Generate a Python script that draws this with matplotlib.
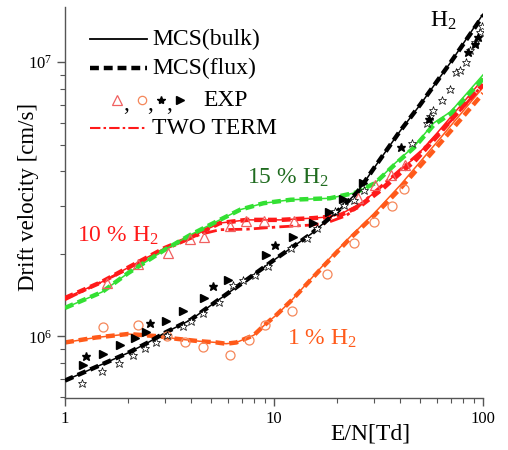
import matplotlib
matplotlib.use("Agg")
import matplotlib.pyplot as plt
from matplotlib.ticker import LogLocator, NullFormatter

plt.rcParams['font.family'] = ['Liberation Serif', 'DejaVu Serif']
plt.rcParams['mathtext.fontset'] = 'custom'
plt.rcParams['mathtext.rm'] = 'Liberation Serif'
plt.rcParams['mathtext.it'] = 'Liberation Serif:italic'
plt.rcParams['mathtext.bf'] = 'Liberation Serif:bold'

# ---------------- data ----------------
# pure H2 (black)
h2_en = [1.0, 1.5, 2.0, 2.5, 3.0, 4.0, 5.0, 7.0, 10, 15, 20, 25, 30, 40, 50, 70, 100]
h2_bulk = [6.9e5, 7.9e5, 8.7e5, 9.5e5, 1.03e6, 1.15e6, 1.3e6, 1.56e6, 1.9e6, 2.36e6,
           2.85e6, 3.35e6, 4.1e6, 5.6e6, 7.0e6, 1.0e7, 1.5e7]
h2_flux = [6.9e5, 7.9e5, 8.7e5, 9.5e5, 1.03e6, 1.15e6, 1.3e6, 1.56e6, 1.9e6, 2.36e6,
           2.85e6, 3.35e6, 4.1e6, 5.6e6, 7.0e6, 1.0e7, 1.48e7]

# 15 % H2 (green)
g_en = [1.0, 1.5, 2.0, 3.0, 4.0, 5.5, 6.9, 8.9, 12, 18.5, 24.4, 30.4, 38, 47, 58, 70, 100]
g_bulk = [1.27e6, 1.45e6, 1.70e6, 2.07e6, 2.35e6, 2.66e6, 2.9e6, 3.06e6, 3.15e6, 3.19e6,
          3.34e6, 3.62e6, 4.29e6, 4.95e6, 6.0e6, 6.6e6, 9.0e6]
g_flux = [1.27e6, 1.45e6, 1.70e6, 2.07e6, 2.35e6, 2.66e6, 2.9e6, 3.06e6, 3.15e6, 3.19e6,
          3.34e6, 3.62e6, 4.25e6, 4.9e6, 5.9e6, 6.5e6, 8.7e6]

# 10 % H2 (red)
r_en = [1.0, 1.5, 2.0, 3.0, 4.0, 5.5, 7.4, 10.7, 15.4, 18.5, 21, 26, 33, 41, 47, 60, 80, 100]
r_bulk = [1.38e6, 1.58e6, 1.78e6, 2.1e6, 2.3e6, 2.59e6, 2.66e6, 2.66e6, 2.70e6, 2.73e6,
          2.8e6, 3.06e6, 3.52e6, 4.11e6, 4.47e6, 5.5e6, 7.1e6, 8.7e6]
r_flux = [1.38e6, 1.58e6, 1.78e6, 2.1e6, 2.3e6, 2.59e6, 2.66e6, 2.66e6, 2.70e6, 2.73e6,
          2.78e6, 3.0e6, 3.45e6, 4.0e6, 4.35e6, 5.35e6, 6.9e6, 8.3e6]
r_tt_en = [1.0, 2.0, 3.0, 4.4, 5.5, 7.4, 10.7, 15.4, 18, 22, 25, 30, 40, 50, 70, 100]
r_tt = [1.36e6, 1.76e6, 2.07e6, 2.35e6, 2.45e6, 2.46e6, 2.51e6, 2.55e6, 2.6e6, 2.75e6,
        2.95e6, 3.35e6, 4.05e6, 4.7e6, 6.1e6, 8.3e6]

# 1 % H2 (orange)
o_en = [1.0, 1.4, 2.0, 2.85, 3.4, 4.4, 5.3, 5.9, 6.6, 8.0, 9.0, 10.3, 12.2, 17.2, 23, 30, 40, 60, 100]
o_bulk = [9.5e5, 9.9e5, 1.02e6, 1.0e6, 9.8e5, 9.6e5, 9.5e5, 9.4e5, 9.5e5, 1.01e6, 1.1e6,
          1.2e6, 1.36e6, 1.82e6, 2.3e6, 2.8e6, 3.55e6, 5.1e6, 8.1e6]
o_flux = [9.5e5, 9.9e5, 1.02e6, 1.0e6, 9.8e5, 9.6e5, 9.5e5, 9.4e5, 9.5e5, 1.01e6, 1.1e6,
          1.2e6, 1.36e6, 1.8e6, 2.27e6, 2.75e6, 3.45e6, 4.9e6, 7.7e6]

# experiments
exp_tri_en = [1.58, 2.24, 3.12, 3.96, 4.62, 6.16, 7.38, 8.96, 12.4, 25.3, 30.4, 36.3, 42.3]
exp_tri_v = [1.57e6, 1.83e6, 2.01e6, 2.27e6, 2.31e6, 2.53e6, 2.64e6, 2.64e6, 2.64e6,
             3.2e6, 3.57e6, 3.87e6, 4.21e6]

exp_circ_en = [1.52, 2.24, 3.07, 3.75, 4.56, 6.16, 7.62, 9.06, 12.2, 17.9, 24.0, 30.1, 36.6, 41.9]
exp_circ_v = [1.08e6, 1.10e6, 1.0e6, 9.5e5, 9.15e5, 8.53e5, 9.67e5, 1.10e6, 1.24e6, 1.69e6,
              2.19e6, 2.62e6, 2.98e6, 3.45e6]

exp_ostar_en = [1.21, 1.51, 1.82, 2.12, 2.42, 2.71, 3.06, 3.66, 4.01, 4.56, 5.47, 6.39, 7.13,
                8.11, 9.39, 12.1, 14.3, 16.0, 19.6, 21.5, 24.0, 26.8, 45.6, 53.8, 55.8, 57.8,
                63.4, 69.5, 73.8, 77.6, 83.2, 86.6, 91.5, 96.8, 99.0]
exp_ostar_v = [6.76e5, 7.48e5, 8.0e5, 8.55e5, 9.06e5, 9.55e5, 1.01e6, 1.09e6, 1.14e6, 1.22e6,
               1.34e6, 1.54e6, 1.61e6, 1.67e6, 1.81e6, 2.1e6, 2.29e6, 2.48e6, 2.86e6, 3.02e6,
               3.15e6, 3.43e6, 5.07e6, 6.0e6, 6.34e6, 6.7e6, 7.29e6, 7.98e6, 9.18e6, 9.38e6,
               1.0e7, 1.11e7, 1.19e7, 1.29e7, 1.36e7]

exp_fstar_en = [1.26, 2.55, 5.1, 10.1, 40.3, 55.0, 85.1, 91.5, 95.0]
exp_fstar_v = [8.46e5, 1.12e6, 1.53e6, 2.16e6, 4.91e6, 6.2e6, 1.09e7, 1.17e7, 1.24e7]

exp_ftri_en = [1.215, 1.52, 1.83, 2.15, 2.45, 3.03, 3.66, 4.62, 6.04, 9.16, 12.3, 15.3, 18.3, 21.3, 26.5]
exp_ftri_v = [7.83e5, 8.65e5, 9.33e5, 9.87e5, 1.04e6, 1.14e6, 1.24e6, 1.38e6, 1.60e6, 1.98e6,
              2.30e6, 2.60e6, 2.85e6, 3.18e6, 3.62e6]

# ---------------- styles ----------------
C_RED = '#ff1a1a'
C_GREEN = '#33e033'
C_ORANGE = '#ff5a1a'
C_CIRC = '#f5875a'
C_TRI = '#f06060'
DASH = (0, (2.0, 1.1))
DASHDOT = (0, (5, 1.5, 1.2, 1.5))

fig = plt.figure(figsize=(5.08, 4.5), dpi=100)
ax = fig.add_axes([0.128, 0.1156, 0.823, 0.8688])

def pair(x, yb, yf, c, z):
    ax.plot(x, yb, color=c, lw=1.1, zorder=z)
    ax.plot(x, yf, color=c, lw=3.2, linestyle=DASH, zorder=z + 0.5)

pair(o_en, o_bulk, o_flux, C_ORANGE, 2)
pair(r_en, r_bulk, r_flux, C_RED, 3)
ax.plot(r_tt_en, r_tt, color=C_RED, lw=2.0, linestyle=DASHDOT, zorder=3.2)
pair(g_en, g_bulk, g_flux, C_GREEN, 4)
pair(h2_en, h2_bulk, h2_flux, 'black', 5)

ax.plot(exp_circ_en, exp_circ_v, 'o', ms=6.5, mfc='none', mec=C_CIRC, mew=0.9, zorder=7)
ax.plot(exp_tri_en, exp_tri_v, '^', ms=7, mfc='none', mec=C_TRI, mew=0.9, zorder=7)
ax.plot(exp_ftri_en, exp_ftri_v, '>', ms=5.2, color='black', zorder=8)
ax.plot(exp_ostar_en, exp_ostar_v, '*', ms=6.3, mfc='white', mec='black', mew=0.5, zorder=8)
ax.plot(exp_fstar_en, exp_fstar_v, '*', ms=6.3, color='black', zorder=8)

ax.set_xscale('log')
ax.set_yscale('log')
ax.set_xlim(1, 100)
ax.set_ylim(5.96e5, 1.59e7)

for s in ['top', 'right']:
    ax.spines[s].set_visible(False)
for s in ['left', 'bottom']:
    ax.spines[s].set_color('#555555')
    ax.spines[s].set_linewidth(1.0)

ax.xaxis.set_minor_locator(LogLocator(base=10, subs=range(2, 10)))
ax.yaxis.set_minor_locator(LogLocator(base=10, subs=range(2, 10)))
ax.xaxis.set_minor_formatter(NullFormatter())
ax.yaxis.set_minor_formatter(NullFormatter())
ax.xaxis.set_major_formatter(matplotlib.ticker.FuncFormatter(lambda v, p: f"{v:g}"))
ax.tick_params(which='major', direction='out', length=6, width=1, color='#555555', labelsize=12)
ax.tick_params(which='minor', direction='out', length=3.5, width=0.8, color='#555555')

ax.set_xlabel('E/N[Td]', fontsize=17)
ax.xaxis.set_label_coords(0.73, -0.065)
ax.set_ylabel('Drift velocity [cm/s]', fontsize=16.5)
ax.yaxis.set_label_coords(-0.062, 0.515)

# annotations
ax.text(55.8, 1.35e7, 'H$_\\mathrm{2}$', fontsize=17, color='black', va='baseline')
ax.text(7.43, 3.62e6, '15 % H$_\\mathrm{2}$', fontsize=17, color='#1f6b1f', va='baseline')
ax.text(1.14, 2.22e6, '10 % H$_\\mathrm{2}$', fontsize=17, color=C_RED, va='baseline')
ax.text(11.5, 9.33e5, '1 % H$_\\mathrm{2}$', fontsize=17, color=C_ORANGE, va='baseline')

# legend (manual)
T = ax.transAxes
lx0, lx1, tx = 0.060, 0.196, 0.208
rows = [0.918, 0.844, 0.762, 0.690]
ax.plot([lx0, lx1], [rows[0]] * 2, color='black', lw=1.3, transform=T)
ax.plot([lx0, lx1], [rows[1]] * 2, color='black', lw=3.2, linestyle=DASH, transform=T)
ax.plot([lx0, lx1], [rows[3]] * 2, color=C_RED, lw=1.5, linestyle=DASHDOT, transform=T)
ax.text(tx, rows[0], 'MCS(bulk)', fontsize=17, va='center', transform=T)
ax.text(tx, rows[1], 'MCS(flux)', fontsize=17, va='center', transform=T)
ax.text(tx, rows[3], 'TWO TERM', fontsize=17, va='center', transform=T)
ax.plot([0.124], [rows[2]], '^', ms=6.5, mfc='none', mec=C_TRI, mew=0.9, transform=T, clip_on=False)
ax.plot([0.183], [rows[2]], 'o', ms=6, mfc='none', mec=C_CIRC, mew=0.9, transform=T, clip_on=False)
ax.plot([0.229], [rows[2]], '*', ms=6, color='black', transform=T, clip_on=False)
ax.plot([0.275], [rows[2]], '>', ms=5.2, color='black', transform=T, clip_on=False)
for cx in [0.145, 0.203, 0.248]:
    ax.text(cx, rows[2] - 0.012, ',', fontsize=17, va='center', ha='center', transform=T)
ax.text(0.33, rows[2], 'EXP', fontsize=17, va='center', transform=T)

fig.savefig('out.png', dpi=100)
